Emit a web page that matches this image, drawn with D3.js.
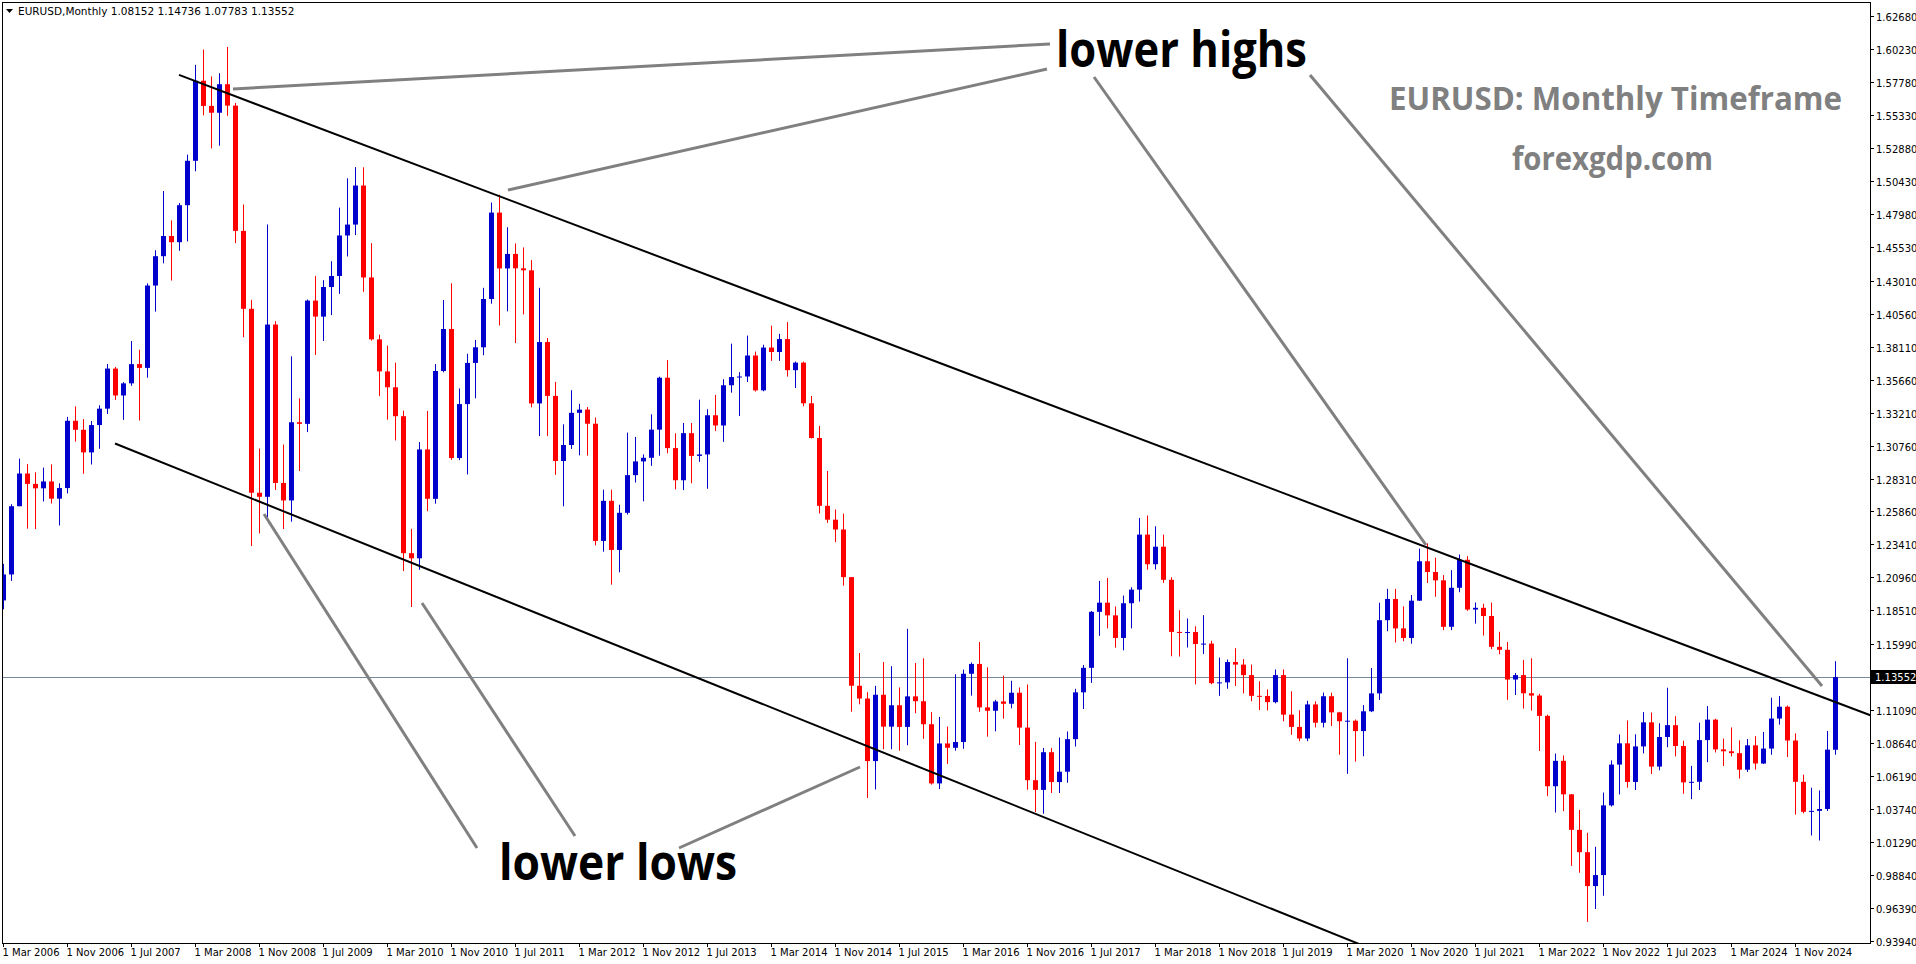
<!DOCTYPE html>
<html>
<head>
<meta charset="utf-8">
<script src="https://cdnjs.cloudflare.com/ajax/libs/d3/7.8.5/d3.min.js"></script>
<style>
body{margin:0;background:#fff;overflow:hidden}
svg{display:block}
</style>
</head>
<body>
<svg id="chart" width="1916" height="964"></svg>
<script>
// monthly EURUSD, Mar 2006 .. Apr 2025
var firstMonth = "2006-03";
var opens = [
1.1925,1.2118,1.2625,1.2868,1.2791,1.2758,1.2809,1.2681,1.2760,1.3260,
1.3193,1.3025,1.3228,1.3350,1.3648,1.3448,1.3538,1.3681,1.3653,1.4265,1.4483,1.4633,
1.4587,1.4862,1.5192,1.5787,1.5600,1.5549,1.5761,1.5602,1.4671,1.4092,1.2725,1.2695,
1.3975,1.2798,1.2668,1.3249,1.3237,1.4153,1.4034,1.4254,1.4336,1.4637,1.4718,1.5008,
1.4325,1.3865,1.3627,1.3509,1.3294,1.2276,1.2238,1.3047,1.2680,1.3630,1.3942,1.2983,
1.3384,1.3690,1.3806,1.4165,1.4807,1.4392,1.4500,1.4393,1.4378,1.3389,1.3845,1.3445,
1.2961,1.3080,1.3319,1.3343,1.3238,1.2367,1.2665,1.2300,1.2576,1.2856,1.2958,1.2985,
1.3194,1.3580,1.3057,1.2818,1.3168,1.2999,1.3010,1.3301,1.3225,1.3524,1.3585,1.3589,
1.3745,1.3486,1.3804,1.3771,1.3867,1.3636,1.3692,1.3390,1.3132,1.2628,1.2525,1.2452,
1.2098,1.1291,1.1196,1.0731,1.1224,1.0987,1.1146,1.0985,1.1212,1.1176,1.1005,1.0565,
1.0862,1.0830,1.0873,1.1380,1.1453,1.1130,1.1105,1.1174,1.1157,1.1239,1.0980,1.0589,
1.0517,1.0797,1.0575,1.0652,1.0894,1.1242,1.1424,1.1840,1.1908,1.1814,1.1646,1.1904,
1.2005,1.2414,1.2194,1.2324,1.2078,1.1691,1.1683,1.1690,1.1601,1.1604,1.1310,1.1316,
1.1467,1.1448,1.1370,1.1216,1.1215,1.1169,1.1370,1.1076,1.0985,1.0899,1.1152,1.1016,
1.1213,1.1093,1.1027,1.1031,1.0954,1.1101,1.1234,1.1778,1.1936,1.1717,1.1646,1.1923,
1.2216,1.2136,1.2074,1.1729,1.2019,1.2227,1.1857,1.1870,1.1809,1.1580,1.1558,1.1337,
1.1370,1.1235,1.1218,1.1067,1.0544,1.0733,1.0484,1.0220,1.0054,0.9802,0.9884,1.0402,
1.0705,1.0863,1.0576,1.0840,1.1019,1.0690,1.0910,1.0998,1.0843,1.0573,1.0577,1.0887,
1.1039,1.0818,1.0804,1.0790,1.0667,1.0848,1.0713,1.0824,1.1047,1.1135,1.0884,1.0577,
1.0354,1.0361,1.0375,1.08152];
var highs = [
1.2197,1.2640,1.2979,1.2938,1.2877,1.2912,1.2936,1.2795,1.3289,1.3367,
1.3273,1.3258,1.3375,1.3682,1.3660,1.3547,1.3852,1.3788,1.4281,1.4527,1.4967,1.4749,
1.4878,1.5238,1.5905,1.6019,1.5819,1.5843,1.6038,1.5622,1.4867,1.4159,1.3053,1.4719,
1.4000,1.3083,1.3739,1.3427,1.4161,1.4337,1.4305,1.4446,1.4844,1.5062,1.5145,1.5144,
1.4580,1.3900,1.3819,1.3692,1.3335,1.2457,1.3102,1.3333,1.3681,1.4157,1.4282,1.3500,
1.3758,1.3861,1.4248,1.4882,1.4940,1.4698,1.4578,1.4548,1.4454,1.4248,1.3876,1.3549,
1.3234,1.3487,1.3386,1.3362,1.3284,1.2748,1.2748,1.2636,1.3172,1.3140,1.3010,1.3308,
1.3588,1.3711,1.3167,1.3244,1.3243,1.3417,1.3346,1.3452,1.3569,1.3833,1.3621,1.3893,
1.3774,1.3825,1.3967,1.3906,1.3993,1.3700,1.3700,1.3444,1.3222,1.2887,1.2601,1.2570,
1.2099,1.1534,1.1243,1.1290,1.1467,1.1436,1.1278,1.1714,1.1460,1.1495,1.1095,1.1059,
1.0988,1.1376,1.1411,1.1464,1.1616,1.1428,1.1186,1.1366,1.1328,1.1278,1.1300,1.0874,
1.0829,1.0829,1.0906,1.0951,1.1268,1.1445,1.1846,1.2070,1.2092,1.1880,1.1961,1.2023,
1.2537,1.2556,1.2476,1.2414,1.2097,1.1852,1.1791,1.1733,1.1815,1.1625,1.1500,1.1486,
1.1570,1.1489,1.1448,1.1324,1.1264,1.1412,1.1412,1.1250,1.1109,1.1179,1.1175,1.1240,
1.1239,1.1097,1.1495,1.1040,1.1147,1.1422,1.1908,1.2011,1.2011,1.1881,1.1965,1.2310,
1.2349,1.2243,1.2113,1.2150,1.2266,1.2254,1.1909,1.1900,1.1909,1.1692,1.1616,1.1386,
1.1483,1.1495,1.1231,1.1076,1.0787,1.0773,1.0486,1.0368,1.0198,1.0094,1.0497,1.0736,
1.0929,1.1033,1.0930,1.1095,1.1092,1.1012,1.1276,1.1065,1.0882,1.0695,1.1017,1.1140,
1.1046,1.0898,1.0981,1.0885,1.0895,1.0916,1.0948,1.1202,1.1214,1.1144,1.0937,1.0630,
1.0533,1.0513,1.0955,1.14736];
var lows = [
1.1859,1.2070,1.2625,1.2458,1.2455,1.2660,1.2645,1.2482,1.2720,1.3105,
1.2866,1.2935,1.3052,1.3310,1.3415,1.3267,1.3520,1.3262,1.3580,1.4071,1.4430,1.4302,
1.4523,1.4593,1.5114,1.5530,1.5284,1.5304,1.5526,1.4580,1.3881,1.2329,1.2423,1.2516,
1.2746,1.2456,1.2510,1.2886,1.3176,1.3749,1.3853,1.4045,1.4203,1.4481,1.4640,1.4218,
1.3856,1.3443,1.3268,1.3114,1.2143,1.1876,1.2153,1.2588,1.2644,1.3620,1.2969,1.2967,
1.2861,1.3427,1.3747,1.4130,1.3968,1.4073,1.3837,1.4050,1.3360,1.3146,1.3146,1.2858,
1.2624,1.3051,1.3003,1.3001,1.2334,1.2287,1.2042,1.2134,1.2563,1.2801,1.2661,1.2925,
1.3000,1.3018,1.2750,1.2745,1.2796,1.2955,1.2755,1.3183,1.3103,1.3469,1.3295,1.3548,
1.3477,1.3479,1.3705,1.3705,1.3588,1.3503,1.3368,1.3128,1.2571,1.2501,1.2358,1.2034,
1.1098,1.1153,1.0457,1.0520,1.0819,1.0819,1.0808,1.0849,1.1087,1.0896,1.0556,1.0523,
1.0710,1.0808,1.0822,1.1217,1.1097,1.0912,1.0952,1.1046,1.1123,1.0851,1.0518,1.0352,
1.0340,1.0494,1.0494,1.0570,1.0839,1.1118,1.1312,1.1662,1.1717,1.1574,1.1554,1.1717,
1.1916,1.2153,1.2155,1.2055,1.1510,1.1508,1.1575,1.1301,1.1526,1.1302,1.1216,1.1269,
1.1289,1.1234,1.1176,1.1110,1.1107,1.1160,1.1027,1.0926,1.0879,1.0879,1.0981,1.0981,
1.0992,1.0778,1.0636,1.0727,1.0767,1.1095,1.1186,1.1696,1.1612,1.1622,1.1603,1.1922,
1.2054,1.1952,1.1704,1.1704,1.1986,1.1847,1.1752,1.1664,1.1563,1.1524,1.1186,1.1222,
1.1121,1.1106,1.0806,1.0470,1.0349,1.0359,0.9952,0.9901,0.9536,0.9632,0.9730,1.0393,
1.0483,1.0533,1.0516,1.0788,1.0635,1.0662,1.0834,1.0766,1.0488,1.0448,1.0516,1.0723,
1.0795,1.0695,1.0766,1.0601,1.0650,1.0668,1.0709,1.0778,1.1002,1.0761,1.0333,1.0343,
1.0178,1.0141,1.0360,1.07783];
var closes = [
1.2118,1.2625,1.2868,1.2791,1.2758,1.2809,1.2681,1.2760,1.3260,1.3193,
1.3025,1.3228,1.3350,1.3648,1.3448,1.3538,1.3681,1.3653,1.4265,1.4483,1.4633,1.4587,
1.4862,1.5192,1.5787,1.5600,1.5549,1.5761,1.5602,1.4671,1.4092,1.2725,1.2695,1.3975,
1.2798,1.2668,1.3249,1.3237,1.4153,1.4034,1.4254,1.4336,1.4637,1.4718,1.5008,1.4325,
1.3865,1.3627,1.3509,1.3294,1.2276,1.2238,1.3047,1.2680,1.3630,1.3942,1.2983,1.3384,
1.3690,1.3806,1.4165,1.4807,1.4392,1.4500,1.4393,1.4378,1.3389,1.3845,1.3445,1.2961,
1.3080,1.3319,1.3343,1.3238,1.2367,1.2665,1.2300,1.2576,1.2856,1.2958,1.2985,1.3194,
1.3580,1.3057,1.2818,1.3168,1.2999,1.3010,1.3301,1.3225,1.3524,1.3585,1.3589,1.3745,
1.3486,1.3804,1.3771,1.3867,1.3636,1.3692,1.3390,1.3132,1.2628,1.2525,1.2452,1.2098,
1.1291,1.1196,1.0731,1.1224,1.0987,1.1146,1.0985,1.1212,1.1176,1.1005,1.0565,1.0862,
1.0830,1.0873,1.1380,1.1453,1.1130,1.1105,1.1174,1.1157,1.1239,1.0980,1.0589,1.0517,
1.0797,1.0575,1.0652,1.0894,1.1242,1.1424,1.1840,1.1908,1.1814,1.1646,1.1904,1.2005,
1.2414,1.2194,1.2324,1.2078,1.1691,1.1683,1.1690,1.1601,1.1604,1.1310,1.1316,1.1467,
1.1448,1.1370,1.1216,1.1215,1.1169,1.1370,1.1076,1.0985,1.0899,1.1152,1.1016,1.1213,
1.1093,1.1027,1.1031,1.0954,1.1101,1.1234,1.1778,1.1936,1.1717,1.1646,1.1923,1.2216,
1.2136,1.2074,1.1729,1.2019,1.2227,1.1857,1.1870,1.1809,1.1580,1.1558,1.1337,1.1370,
1.1235,1.1218,1.1067,1.0544,1.0733,1.0484,1.0220,1.0054,0.9802,0.9884,1.0402,1.0705,
1.0863,1.0576,1.0840,1.1019,1.0690,1.0910,1.0998,1.0843,1.0573,1.0577,1.0887,1.1039,
1.0818,1.0804,1.0790,1.0667,1.0848,1.0713,1.0824,1.1047,1.1135,1.0884,1.0577,1.0354,
1.0361,1.0375,1.0816,1.13552];

var priceTicks = [1.62680,1.60230,1.57780,1.55330,1.52880,1.50430,1.47980,1.45530,1.43010,1.40560,
  1.38110,1.35660,1.33210,1.30760,1.28310,1.25860,1.23410,1.20960,1.18510,1.15990,1.11090,
  1.08640,1.06190,1.03740,1.01290,0.98840,0.96390,0.93940];
var dateTicks = ["1 Mar 2006","1 Nov 2006","1 Jul 2007","1 Mar 2008","1 Nov 2008","1 Jul 2009",
  "1 Mar 2010","1 Nov 2010","1 Jul 2011","1 Mar 2012","1 Nov 2012","1 Jul 2013","1 Mar 2014",
  "1 Nov 2014","1 Jul 2015","1 Mar 2016","1 Nov 2016","1 Jul 2017","1 Mar 2018","1 Nov 2018",
  "1 Jul 2019","1 Mar 2020","1 Nov 2020","1 Jul 2021","1 Mar 2022","1 Nov 2022","1 Jul 2023",
  "1 Mar 2024","1 Nov 2024"];
var lastPrice = 1.13552;

// channel lines: [bar index, price]
var upperLine = [[22, 1.5830], [240, 1.0923]];
var lowerLine = [[14, 1.3091], [169.5, 0.9372]];

var W = 1916, H = 964;
var plotL = 2, plotR = 1870, plotT = 2, plotB = 943;

var svg = d3.select("#chart");
var x = d3.scaleLinear().domain([0, 229]).range([3, 1835]);
var y = d3.scaleLinear().domain([0.9394, 1.6268]).range([941, 16]);

var bars = opens.map(function(o, i){
  return {i: i, o: o, h: highs[i], l: lows[i], c: closes[i]};
});

svg.append("clipPath").attr("id", "plotclip")
  .append("rect").attr("x", plotL).attr("y", plotT).attr("width", plotR - plotL).attr("height", plotB - plotT);

var plot = svg.append("g").attr("clip-path", "url(#plotclip)");

// current price line
plot.append("line")
  .attr("x1", plotL).attr("x2", plotR)
  .attr("y1", Math.round(y(lastPrice)) + 0.5).attr("y2", Math.round(y(lastPrice)) + 0.5)
  .attr("stroke", "#778899").attr("stroke-width", 1);

var candle = plot.selectAll(".candle").data(bars).enter().append("g").attr("class", "candle");
candle.append("line")
  .attr("x1", function(d){ return Math.round(x(d.i)) + 0.5; })
  .attr("x2", function(d){ return Math.round(x(d.i)) + 0.5; })
  .attr("y1", function(d){ return y(d.h); })
  .attr("y2", function(d){ return y(d.l); })
  .attr("stroke", function(d){ return d.c >= d.o ? "#0000cc" : "#ff0000"; })
  .attr("stroke-width", 1);
candle.append("rect")
  .attr("x", function(d){ return Math.round(x(d.i)) - 2; })
  .attr("width", 5)
  .attr("y", function(d){ return y(Math.max(d.o, d.c)); })
  .attr("height", function(d){ return Math.max(1, Math.abs(y(d.o) - y(d.c))); })
  .attr("fill", function(d){ return d.c >= d.o ? "#0000cc" : "#ff0000"; });

// channel
[upperLine, lowerLine].forEach(function(ln){
  plot.append("line")
    .attr("x1", x(ln[0][0])).attr("y1", y(ln[0][1]))
    .attr("x2", x(ln[1][0])).attr("y2", y(ln[1][1]))
    .attr("stroke", "#000").attr("stroke-width", 2);
});

// annotation pointers
var pointers = [
  [233, 89, 1050, 44], [508, 190, 1047, 69],
  [1094, 77, 1426, 545], [1310, 75, 1822, 686],
  [264, 514, 477, 848], [422, 603, 575, 836], [679, 848, 860, 767]
];
plot.selectAll(".ptr").data(pointers).enter().append("line")
  .attr("x1", function(d){ return d[0]; }).attr("y1", function(d){ return d[1]; })
  .attr("x2", function(d){ return d[2]; }).attr("y2", function(d){ return d[3]; })
  .attr("stroke", "#808080").attr("stroke-width", 3);

svg.append("text").attr("x", 1056).attr("y", 67)
  .attr("font-family", "'Liberation Sans Narrow','Open Sans',sans-serif").attr("font-weight", "bold")
  .attr("font-size", 50).attr("textLength", 251).attr("lengthAdjust", "spacingAndGlyphs")
  .text("lower highs");
svg.append("text").attr("x", 499).attr("y", 880)
  .attr("font-family", "'Liberation Sans Narrow','Open Sans',sans-serif").attr("font-weight", "bold")
  .attr("font-size", 50).attr("textLength", 238).attr("lengthAdjust", "spacingAndGlyphs")
  .text("lower lows");
svg.append("text").attr("x", 1389).attr("y", 110)
  .attr("font-family", "'Open Sans',sans-serif").attr("font-weight", "bold").attr("fill", "#808080")
  .attr("font-size", 32).attr("textLength", 453).attr("lengthAdjust", "spacingAndGlyphs")
  .text("EURUSD: Monthly Timeframe");
svg.append("text").attr("x", 1512).attr("y", 170)
  .attr("font-family", "'Open Sans',sans-serif").attr("font-weight", "bold").attr("fill", "#808080")
  .attr("font-size", 32).attr("textLength", 201).attr("lengthAdjust", "spacingAndGlyphs")
  .text("forexgdp.com");

// frame
svg.append("rect").attr("x", plotL + 0.5).attr("y", plotT + 0.5)
  .attr("width", plotR - plotL).attr("height", plotB - plotT)
  .attr("fill", "none").attr("stroke", "#000").attr("stroke-width", 1);

// header
svg.append("path").attr("d", "M6,9 L13,9 L9.5,13 Z").attr("fill", "#000");
svg.append("text").attr("x", 18).attr("y", 15)
  .attr("font-family", "'DejaVu Sans',sans-serif").attr("font-size", 10.5)
  .text("EURUSD,Monthly  1.08152 1.14736 1.07783 1.13552");

// price axis
var pa = svg.append("g");
priceTicks.forEach(function(v){
  var yy = Math.round(y(v)) + 0.5;
  pa.append("line").attr("x1", plotR).attr("x2", plotR + 4).attr("y1", yy).attr("y2", yy).attr("stroke", "#000");
  pa.append("text").attr("x", plotR + 6).attr("y", yy + 4)
    .attr("font-family", "'DejaVu Sans',sans-serif").attr("font-size", 10)
    .text(v.toFixed(5));
});
var ly = Math.round(y(lastPrice));
pa.append("rect").attr("x", plotR + 1).attr("y", ly - 7).attr("width", 45).attr("height", 14).attr("fill", "#000");
pa.append("text").attr("x", plotR + 5).attr("y", ly + 4).attr("fill", "#fff")
  .attr("font-family", "'DejaVu Sans',sans-serif").attr("font-size", 10)
  .text(lastPrice.toFixed(5));

// time axis
var ta = svg.append("g");
dateTicks.forEach(function(lbl, k){
  var xx = Math.round(x(k * 8)) + 0.5;
  ta.append("line").attr("x1", xx).attr("x2", xx).attr("y1", plotB).attr("y2", plotB + 4).attr("stroke", "#000");
  ta.append("text").attr("x", xx - 1).attr("y", plotB + 13)
    .attr("font-family", "'DejaVu Sans',sans-serif").attr("font-size", 10)
    .text(lbl);
});
</script>
</body>
</html>
